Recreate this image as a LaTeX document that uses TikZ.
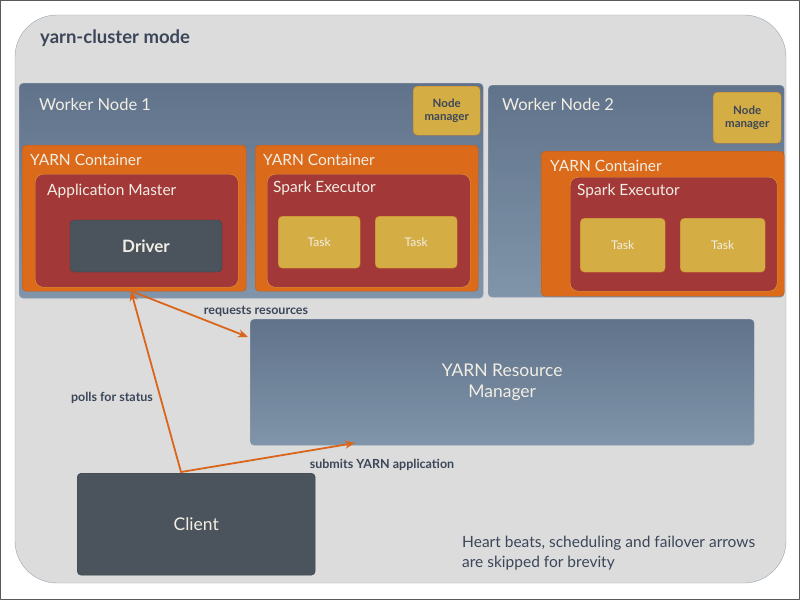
\documentclass[tikz,border=0pt]{standalone}
\usepackage{fontspec}
\setmainfont{Lato}
\usetikzlibrary{positioning,arrows.meta}
\definecolor{bgcol}{HTML}{DCDCDC}
\definecolor{bgline}{HTML}{9AA6B4}
\definecolor{wntop}{HTML}{60738A}
\definecolor{wnbot}{HTML}{8094AA}
\definecolor{wnline}{HTML}{8E9CAE}
\definecolor{mustard}{HTML}{D4AD45}
\definecolor{orangec}{HTML}{DB6B1A}
\definecolor{orline}{HTML}{C2581A}
\definecolor{redc}{HTML}{A33838}
\definecolor{redline}{HTML}{E2A23A}
\definecolor{slate}{HTML}{4B535C}
\definecolor{cream}{HTML}{F2EEE4}
\definecolor{darktxt}{HTML}{3B4658}
\definecolor{arrowc}{HTML}{D9661B}
\begin{document}
\begin{tikzpicture}[x=1pt, y=-1pt, font=\fontsize{15.5}{17}\selectfont, line join=round, line cap=round,
  >={Stealth[length=10pt,width=8pt]},
  box/.style={anchor=north west, inner sep=0pt, rounded corners=4pt},
  worker/.style={box, draw=wnline, top color=wntop, bottom color=wnbot},
  nodemgr/.style={box, draw=orline!60!mustard, fill=mustard, align=center, text=darktxt,
    font=\fontsize{11.5}{12.5}\selectfont\bfseries},
  container/.style={box, draw=orline, fill=orangec},
  process/.style={box, rounded corners=8pt, draw=redline, fill=redc},
  task/.style={box, draw=orline!70!mustard, fill=mustard, text=cream, font=\fontsize{12}{13}\selectfont},
  dark/.style={box, draw=slate!80!black, fill=slate, text=cream},
  lbl/.style={anchor=west, inner sep=0pt, text=cream},
  note/.style={inner sep=0pt, text=darktxt, font=\fontsize{12.5}{13}\selectfont\bfseries},
  flow/.style={draw=arrowc, line width=1.8pt}]
  \useasboundingbox (0,0) rectangle (800,600);
  \fill[white] (0,0) rectangle (800,600);
  \draw[gray!70!black] (0.5,0.5) rectangle (799.5,599.5);
  \draw[fill=bgcol, draw=bgline, rounded corners=42pt] (15,15) rectangle (786,583);
  \node[anchor=west, inner sep=0pt, text=darktxt, font=\fontsize{18.5}{20}\selectfont\bfseries] (title) at (40,38) {yarn-cluster mode};

  % worker node 1
  \node[worker, minimum width=464, minimum height=215] (wn1) at (19,83) {};
  \node[lbl, font=\fontsize{16.5}{18}\selectfont] (wn1lbl) at (39,104) {Worker Node 1};
  \node[nodemgr, minimum width=67, minimum height=49] (nm1) at (413,86) {Node\\manager};
  \node[container, minimum width=224, minimum height=146] (yc1) at (22,145) {};
  \node[lbl] (yc1lbl) at (30,160) {YARN Container};
  \node[process, minimum width=203, minimum height=113] (am) at (35,174) {};
  \node[lbl] (amlbl) at (47,191) {Application Master};
  \node[dark, minimum width=152, minimum height=52, anchor=center, font=\fontsize{17}{18}\selectfont\bfseries] (driver) at (146,246) {Driver};
  \node[container, minimum width=223, minimum height=146] (yc2) at (255,145) {};
  \node[lbl] (yc2lbl) at (263,160) {YARN Container};
  \node[process, minimum width=203, minimum height=113] (ex1) at (267,174) {};
  \node[lbl] (ex1lbl) at (273,188) {Spark Executor};
  \node[task, minimum width=82, minimum height=52] (t1) at (278,216) {Task};
  \node[task, minimum width=82, minimum height=52] (t2) at (375,216) {Task};

  % worker node 2
  \node[worker, minimum width=296, minimum height=212] (wn2) at (488,85) {};
  \node[lbl, font=\fontsize{16.5}{18}\selectfont] (wn2lbl) at (502,104) {Worker Node 2};
  \node[nodemgr, minimum width=68, minimum height=51] (nm2) at (713,92) {Node\\manager};
  \node[container, minimum width=243, minimum height=145] (yc3) at (541,151) {};
  \node[lbl] (yc3lbl) at (550,166) {YARN Container};
  \node[process, minimum width=207, minimum height=114] (ex2) at (570,177) {};
  \node[lbl] (ex2lbl) at (577,191) {Spark Executor};
  \node[task, minimum width=85, minimum height=54] (t3) at (580,218) {Task};
  \node[task, minimum width=85, minimum height=54] (t4) at (680,218) {Task};

  % resource manager and client
  \node[worker, draw=wnline, minimum width=504, minimum height=126, align=center, text=cream,
    font=\fontsize{17.5}{21}\selectfont] (rm) at (250,319) {YARN Resource\\Manager};
  \node[dark, minimum width=238, minimum height=102, anchor=north west, font=\fontsize{17.5}{18}\selectfont] (client) at (77,473) {Client};

  % arrows
  \coordinate (amfoot) at (131,291);
  \coordinate (clitop) at (181,472);
  \coordinate (rmside) at (248,337);
  \coordinate (rmfoot) at (355,443);
  \draw[flow,->] (clitop) -- (amfoot);
  \draw[flow,->] (amfoot) -- (rmside);
  \draw[flow,->] (clitop) -- (rmfoot);
  \node[note] (polls) at (112,398) {polls for status};
  \node[note] (reqs) at (256,311) {requests resources};
  \node[note] (subm) at (382,465) {submits YARN application};

  \node[anchor=north west, inner sep=0pt, align=left, text=darktxt, font=\fontsize{15.5}{20}\selectfont] (remark) at (462,536)
    {Heart beats, scheduling and failover arrows\\are skipped for brevity};
\end{tikzpicture}
\end{document}
